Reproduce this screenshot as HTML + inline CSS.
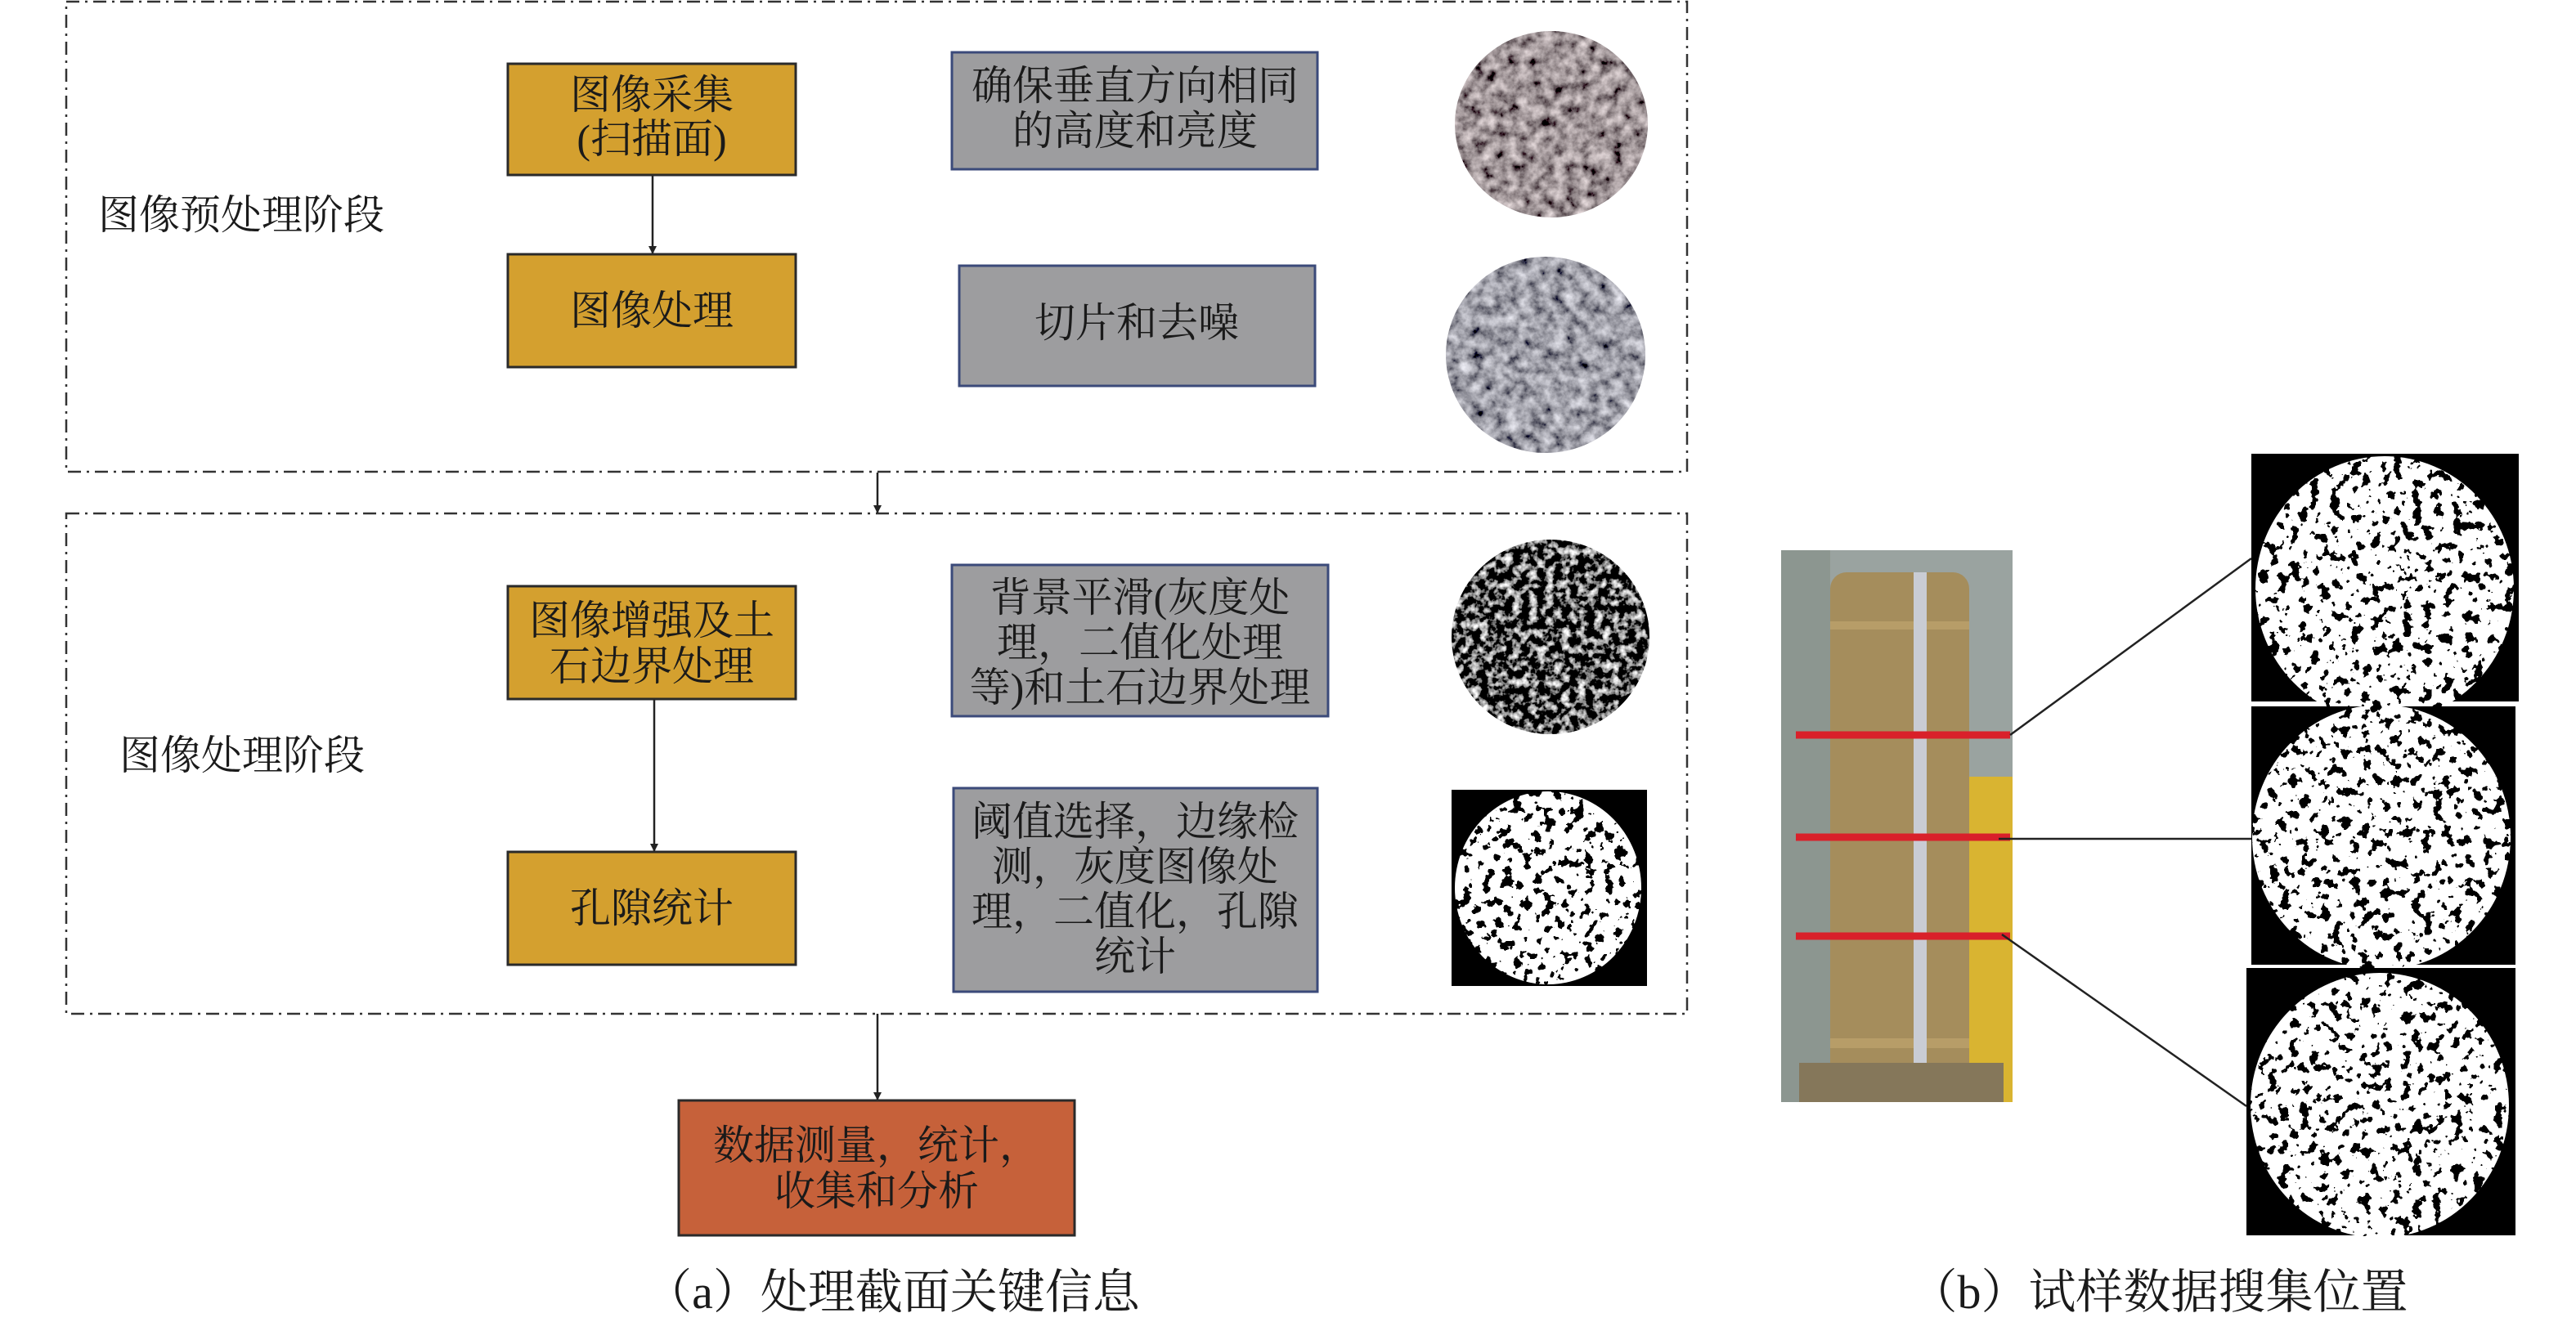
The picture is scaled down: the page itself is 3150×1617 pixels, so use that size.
<!DOCTYPE html>
<html><head><meta charset="utf-8">
<style>
html,body{margin:0;padding:0;background:#fff;}
svg{display:block;}
text{font-family:"Liberation Serif","Noto Serif CJK SC",serif;fill:#1a1a1a;}
</style></head>
<body>
<svg width="3150" height="1617" viewBox="0 0 3150 1617" xmlns="http://www.w3.org/2000/svg">
<defs>
<marker id="ar" markerWidth="10" markerHeight="10" refX="9" refY="5" orient="auto" markerUnits="userSpaceOnUse" viewBox="0 0 10 10">
<path d="M0,0 L10,5 L0,10 z" fill="#222"/></marker>
<filter id="rock1" x="0" y="0" width="100%" height="100%">
<feTurbulence type="fractalNoise" baseFrequency="0.07" numOctaves="4" seed="2"/>
<feColorMatrix type="matrix" values="1.2 0 0 0 -0.25  1.1 0 0 0 -0.25  1.1 0 0 0 -0.24  0 0 0 0 1"/>
</filter>
<filter id="rock2" x="0" y="0" width="100%" height="100%">
<feTurbulence type="fractalNoise" baseFrequency="0.07" numOctaves="4" seed="7"/>
<feColorMatrix type="matrix" values="1.15 0 0 0 -0.22  1.15 0 0 0 -0.22  1.2 0 0 0 -0.2  0 0 0 0 1"/>
</filter>
<filter id="bw1" x="0" y="0" width="100%" height="100%">
<feTurbulence type="fractalNoise" baseFrequency="0.1" numOctaves="3" seed="4"/>
<feColorMatrix type="matrix" values="3 0 0 0 -1.4  3 0 0 0 -1.4  3 0 0 0 -1.4  0 0 0 0 1"/>
</filter>
<filter id="bw2" x="0" y="0" width="100%" height="100%">
<feTurbulence type="fractalNoise" baseFrequency="0.08" numOctaves="3" seed="9"/>
<feColorMatrix type="matrix" values="1 0 0 0 0  1 0 0 0 0  1 0 0 0 0  0 0 0 0 1"/>
<feComponentTransfer><feFuncR type="discrete" tableValues="0 0 0 0 0 0 0 0 1 1 1 1 1 1 1 1 1 1 1 1"/><feFuncG type="discrete" tableValues="0 0 0 0 0 0 0 0 1 1 1 1 1 1 1 1 1 1 1 1"/><feFuncB type="discrete" tableValues="0 0 0 0 0 0 0 0 1 1 1 1 1 1 1 1 1 1 1 1"/></feComponentTransfer>
</filter>
<clipPath id="c1"><ellipse cx="1897" cy="152" rx="118" ry="114"/></clipPath>
<clipPath id="c2"><ellipse cx="1890" cy="434" rx="122" ry="120"/></clipPath>
<clipPath id="c3"><ellipse cx="1896" cy="779" rx="121" ry="119"/></clipPath>
<clipPath id="c4"><ellipse cx="1893" cy="1086" rx="114" ry="118"/></clipPath>
<clipPath id="c5"><ellipse cx="2916" cy="720" rx="158" ry="162"/></clipPath>
<clipPath id="c6"><ellipse cx="2912" cy="1024" rx="158" ry="162"/></clipPath>
<clipPath id="c7"><ellipse cx="2910" cy="1352" rx="158" ry="162"/></clipPath>
</defs>

<g fill="none" stroke="#333" stroke-width="2.5" stroke-dasharray="16 7 3 7">
<rect x="81" y="2" width="1982" height="575"/>
<rect x="81" y="628" width="1982" height="612"/>
</g>

<g stroke="#222" stroke-width="2.5" marker-end="url(#ar)">
<line x1="798" y1="215" x2="798" y2="310"/>
<line x1="800" y1="855" x2="800" y2="1041"/>
<line x1="1073" y1="578" x2="1073" y2="627"/>
<line x1="1073" y1="1240" x2="1073" y2="1345"/>
</g>

<g fill="#d4a02f" stroke="#2a2a2a" stroke-width="3">
<rect x="621" y="78" width="352" height="136"/>
<rect x="621" y="311" width="352" height="138"/>
<rect x="621" y="717" width="352" height="138"/>
<rect x="621" y="1042" width="352" height="138"/>
</g>
<rect x="830" y="1346" width="484" height="165" fill="#c6613a" stroke="#2a2a2a" stroke-width="3"/>

<g fill="#9d9d9f" stroke="#3b4a7a" stroke-width="3">
<rect x="1164" y="64" width="447" height="143"/>
<rect x="1173" y="325" width="435" height="147"/>
<rect x="1164" y="691" width="460" height="185"/>
<rect x="1166" y="964" width="445" height="249"/>
</g>

<g font-size="50" text-anchor="middle">
<text x="797" y="133">图像采集</text>
<text x="797" y="187">(扫描面)</text>
<text x="797" y="397">图像处理</text>
<text x="797" y="776">图像增强及土</text>
<text x="797" y="832">石边界处理</text>
<text x="797" y="1128">孔隙统计</text>
<text x="1072" y="1418">数据测量，统计，</text>
<text x="1072" y="1474">收集和分析</text>
<text x="1388" y="122">确保垂直方向相同</text>
<text x="1388" y="177">的高度和亮度</text>
<text x="1390" y="412">切片和去噪</text>
<text x="1394" y="748">背景平滑(灰度处</text>
<text x="1394" y="803">理，二值化处理</text>
<text x="1394" y="858">等)和土石边界处理</text>
<text x="1388" y="1022">阈值选择，边缘检</text>
<text x="1388" y="1077">测，灰度图像处</text>
<text x="1388" y="1132">理，二值化，孔隙</text>
<text x="1388" y="1187">统计</text>
</g>
<g font-size="50">
<text x="120" y="280">图像预处理阶段</text>
<text x="146" y="941">图像处理阶段</text>
</g>

<g clip-path="url(#c1)"><rect x="1770" y="30" width="260" height="250" filter="url(#rock1)"/></g>
<g clip-path="url(#c2)"><rect x="1760" y="310" width="260" height="250" filter="url(#rock2)"/></g>
<g clip-path="url(#c3)"><rect x="1770" y="655" width="260" height="250" filter="url(#bw1)"/></g>
<rect x="1775" y="966" width="239" height="240" fill="#000"/>
<g clip-path="url(#c4)"><rect x="1775" y="966" width="239" height="240" filter="url(#bw2)"/></g>

<rect x="2178" y="673" width="283" height="675" fill="#9aa3a0"/>
<rect x="2178" y="673" width="60" height="675" fill="#8c9690"/>
<rect x="2400" y="950" width="61" height="398" fill="#d9b431"/>
<rect x="2238" y="700" width="170" height="648" rx="20" fill="#a58d5c"/>
<rect x="2238" y="760" width="170" height="10" fill="#b79d68"/>
<rect x="2238" y="1270" width="170" height="12" fill="#b79d68"/>
<rect x="2340" y="700" width="16" height="620" fill="#c9ccd4"/>
<rect x="2200" y="1300" width="250" height="48" fill="#85775a"/>
<g stroke="#d9202a" stroke-width="9">
<line x1="2196" y1="899" x2="2458" y2="899"/>
<line x1="2196" y1="1024" x2="2458" y2="1024"/>
<line x1="2196" y1="1145" x2="2458" y2="1145"/>
</g>
<g stroke="#222" stroke-width="2.5">
<line x1="2458" y1="899" x2="2753" y2="683"/>
<line x1="2444" y1="1026" x2="2753" y2="1026"/>
<line x1="2448" y1="1143" x2="2747" y2="1353"/>
</g>

<rect x="2753" y="555" width="327" height="303" fill="#000"/>
<g clip-path="url(#c5)"><rect x="2753" y="555" width="327" height="330" filter="url(#bw2)"/></g>
<rect x="2753" y="864" width="323" height="316" fill="#000"/>
<g clip-path="url(#c6)"><rect x="2753" y="862" width="323" height="324" filter="url(#bw2)"/></g>
<rect x="2747" y="1184" width="329" height="327" fill="#000"/>
<g clip-path="url(#c7)"><rect x="2747" y="1188" width="329" height="324" filter="url(#bw2)"/></g>

<g font-size="58" text-anchor="middle">
<text x="1091" y="1600">（a）处理截面关键信息</text>
<text x="2640" y="1600">（b）试样数据搜集位置</text>
</g>
</svg>
</body></html>
